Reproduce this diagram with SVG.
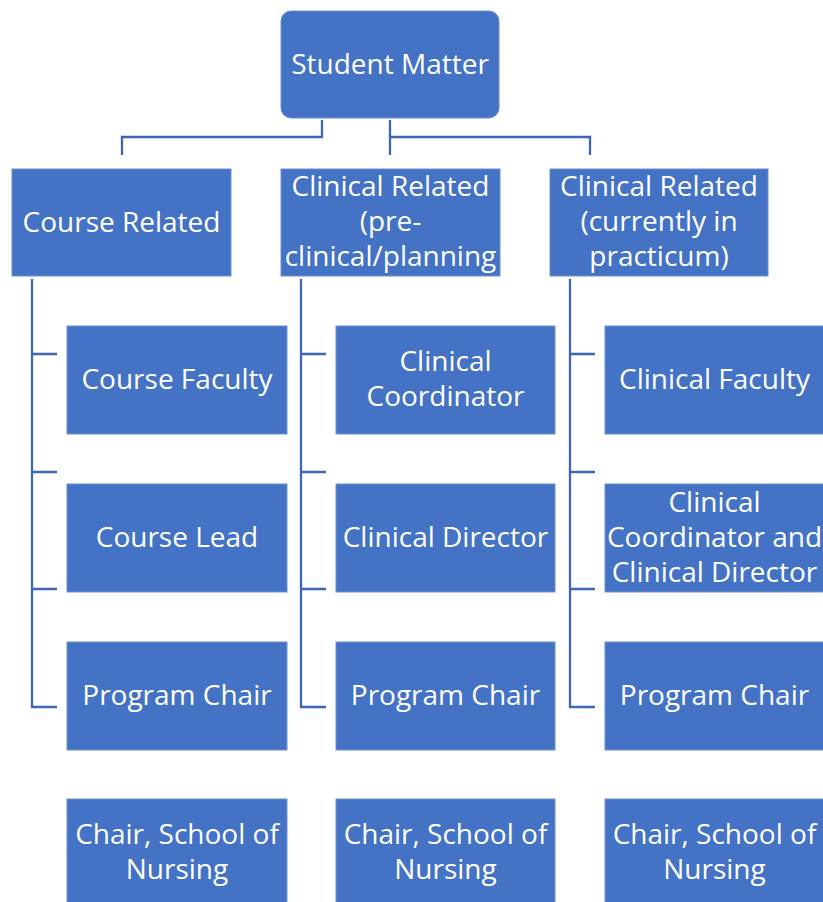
<svg xmlns="http://www.w3.org/2000/svg" width="823" height="902" viewBox="0 0 823 902">
<style>
.box{fill:#4472C4;stroke:#6F90D0;stroke-width:1}
.t{font-family:"Open Sans","Noto Sans",sans-serif;font-size:28px;fill:#FFFFFF;text-anchor:middle}
.c{fill:none;stroke:#3D66B3;stroke-width:2.3}
</style>
<rect width="823" height="902" fill="#FFFFFF"/>
<g id="connectors">
<path class="c" d="M322,120 V137 H122 V155"/>
<path class="c" d="M390,120 V155 M390,137 H590 V155"/>
<path class="c" d="M32,279 V707 H57 M32,354 H57 M32,472 H57 M32,589 H57"/>
<path class="c" d="M301,279 V707 H326 M301,354 H326 M301,472 H326 M301,589 H326"/>
<path class="c" d="M570,279 V707 H595 M570,354 H595 M570,472 H595 M570,589 H595"/>
</g>
<g id="student-matter"><rect class="box" x="281" y="11" width="218" height="107" rx="10"/><text class="t" x="390" y="74">Student Matter</text></g>
<g id="course-related"><rect class="box" x="12" y="169" width="219" height="107"/><text class="t" x="121.5" y="232">Course Related</text></g>
<g id="clinical-pre"><rect class="box" x="281" y="169" width="219" height="107"/><text class="t" x="390.5"><tspan x="390.5" y="196">Clinical Related</tspan><tspan x="390.5" y="231">(pre-</tspan><tspan x="390.5" y="266">clinical/planning</tspan></text></g>
<g id="clinical-current"><rect class="box" x="550" y="169" width="218" height="107"/><text class="t" x="659"><tspan x="659" y="196">Clinical Related</tspan><tspan x="659" y="231">(currently in</tspan><tspan x="659" y="266">practicum)</tspan></text></g>

<g id="course-faculty"><rect class="box" x="67" y="326" width="220" height="108"/><text class="t" x="177" y="389">Course Faculty</text></g>
<g id="course-lead"><rect class="box" x="67" y="484" width="220" height="108"/><text class="t" x="177" y="547">Course Lead</text></g>
<g id="program-chair-1"><rect class="box" x="67" y="642" width="220" height="108"/><text class="t" x="177" y="705">Program Chair</text></g>
<g id="chair-son-1"><rect class="box" x="67" y="799" width="220" height="108"/><text class="t" x="177"><tspan x="177" y="844">Chair, School of</tspan><tspan x="177" y="879">Nursing</tspan></text></g>

<g id="clinical-coordinator"><rect class="box" x="336" y="326" width="219" height="108"/><text class="t" x="445.5"><tspan x="445.5" y="371">Clinical</tspan><tspan x="445.5" y="406">Coordinator</tspan></text></g>
<g id="clinical-director"><rect class="box" x="336" y="484" width="219" height="108"/><text class="t" x="445.5" y="547">Clinical Director</text></g>
<g id="program-chair-2"><rect class="box" x="336" y="642" width="219" height="108"/><text class="t" x="445.5" y="705">Program Chair</text></g>
<g id="chair-son-2"><rect class="box" x="336" y="799" width="219" height="108"/><text class="t" x="445.5"><tspan x="445.5" y="844">Chair, School of</tspan><tspan x="445.5" y="879">Nursing</tspan></text></g>

<g id="clinical-faculty"><rect class="box" x="605" y="326" width="220" height="108"/><text class="t" x="714.5" y="389">Clinical Faculty</text></g>
<g id="coordinator-director"><rect class="box" x="605" y="484" width="220" height="108"/><text class="t" x="714.5"><tspan x="714.5" y="512">Clinical</tspan><tspan x="714.5" y="547">Coordinator and</tspan><tspan x="714.5" y="582">Clinical Director</tspan></text></g>
<g id="program-chair-3"><rect class="box" x="605" y="642" width="220" height="108"/><text class="t" x="714.5" y="705">Program Chair</text></g>
<g id="chair-son-3"><rect class="box" x="605" y="799" width="220" height="108"/><text class="t" x="714.5"><tspan x="714.5" y="844">Chair, School of</tspan><tspan x="714.5" y="879">Nursing</tspan></text></g>
</svg>
